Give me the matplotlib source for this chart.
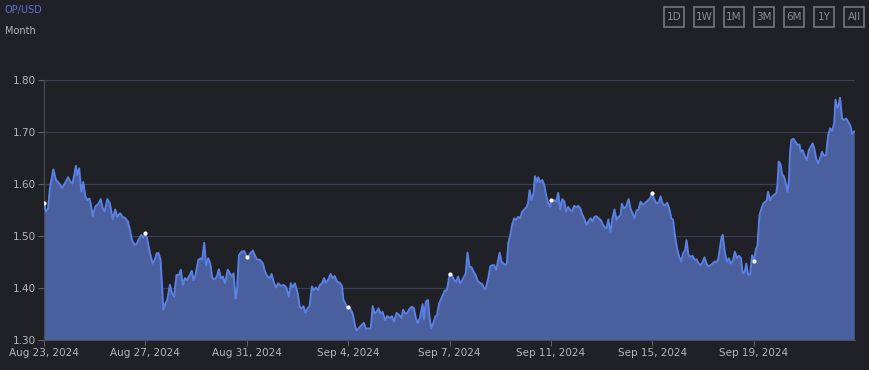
import matplotlib as mpl
import matplotlib.pyplot as plt
from matplotlib.patches import Rectangle

# data (days since Aug 23, 2024 00:00 ; OP price in USD)
days = [
    0.00, 0.08, 0.16, 0.24, 0.37, 0.47, 0.60, 0.71, 0.82, 0.95, 1.05, 1.13, 1.26, 1.31, 1.39, 1.47,
    1.55, 1.63, 1.71, 1.79, 1.84, 1.92, 2.02, 2.16, 2.24, 2.32, 2.39, 2.50, 2.60, 2.71, 2.81, 2.89,
    3.00, 3.10, 3.21, 3.31, 3.39, 3.47, 3.58, 3.66, 3.74, 3.84, 3.92, 4.00, 4.07, 4.18, 4.29, 4.37,
    4.45, 4.52, 4.60, 4.65, 4.71, 4.79, 4.86, 4.97, 5.05, 5.13, 5.23, 5.33, 5.40, 5.48, 5.56, 5.64,
    5.75, 5.83, 5.90, 5.98, 6.09, 6.17, 6.24, 6.32, 6.40, 6.48, 6.56, 6.64, 6.75, 6.82, 6.90, 6.98,
    7.06, 7.14, 7.25, 7.35, 7.43, 7.48, 7.56, 7.61, 7.69, 7.80, 7.90, 8.00, 8.08, 8.16, 8.24, 8.32,
    8.40, 8.53, 8.64, 8.72, 8.82, 8.90, 8.98, 9.08, 9.16, 9.24, 9.35, 9.46, 9.56, 9.66, 9.74, 9.82,
    9.90, 10.01, 10.09, 10.16, 10.24, 10.32, 10.40, 10.48, 10.57, 10.65, 10.73, 10.81, 10.89, 10.97,
    11.05, 11.12, 11.20, 11.31, 11.39, 11.47, 11.57, 11.68, 11.76, 11.81, 11.89, 11.96, 12.00, 12.10,
    12.18, 12.28, 12.34, 12.44, 12.54, 12.62, 12.70, 12.81, 12.89, 12.97, 13.05, 13.12, 13.20, 13.28,
    13.36, 13.46, 13.54, 13.65, 13.73, 13.81, 13.91, 14.02, 14.10, 14.17, 14.25, 14.33, 14.44, 14.52,
    14.60, 14.67, 14.75, 14.83, 14.94, 14.99, 15.07, 15.15, 15.20, 15.28, 15.36, 15.44, 15.51, 15.59,
    15.70, 15.81, 15.90, 15.98, 16.00, 16.11, 16.19, 16.26, 16.34, 16.42, 16.50, 16.58, 16.64, 16.71,
    16.79, 16.87, 16.95, 17.03, 17.11, 17.21, 17.29, 17.35, 17.42, 17.53, 17.61, 17.69, 17.76, 17.84,
    17.92, 17.98, 18.05, 18.13, 18.21, 18.26, 18.32, 18.39, 18.47, 18.55, 18.63, 18.71, 18.79, 18.87,
    18.95, 19.03, 19.10, 19.16, 19.24, 19.32, 19.37, 19.45, 19.50, 19.58, 19.66, 19.74, 19.81, 19.89,
    19.97, 20.00, 20.13, 20.21, 20.29, 20.37, 20.45, 20.53, 20.60, 20.68, 20.76, 20.84, 20.92, 21.00,
    21.08, 21.16, 21.25, 21.33, 21.41, 21.49, 21.57, 21.64, 21.72, 21.80, 21.88, 21.96, 22.04, 22.12,
    22.20, 22.27, 22.35, 22.43, 22.51, 22.59, 22.67, 22.75, 22.80, 22.88, 22.96, 23.07, 23.14, 23.22,
    23.30, 23.38, 23.46, 23.54, 23.62, 23.70, 23.78, 23.85, 23.93, 24.00, 24.09, 24.17, 24.25, 24.33,
    24.41, 24.49, 24.59, 24.67, 24.75, 24.82, 24.90, 24.98, 25.06, 25.14, 25.22, 25.30, 25.35, 25.43,
    25.51, 25.59, 25.67, 25.75, 25.83, 25.90, 25.98, 26.06, 26.14, 26.22, 26.30, 26.38, 26.46, 26.54,
    26.61, 26.73, 26.78, 26.86, 26.94, 27.02, 27.10, 27.18, 27.26, 27.34, 27.42, 27.50, 27.57, 27.65,
    27.71, 27.78, 27.86, 27.94, 28.00, 28.10, 28.15, 28.23, 28.31, 28.39, 28.47, 28.52, 28.57, 28.65,
    28.73, 28.81, 28.89, 28.94, 28.99, 29.07, 29.12, 29.20, 29.26, 29.34, 29.39, 29.44, 29.49, 29.57,
    29.65, 29.73, 29.81, 29.86, 29.94, 30.02, 30.10, 30.18, 30.26, 30.33, 30.39, 30.47, 30.55, 30.62,
    30.70, 30.78, 30.86, 30.94, 31.02, 31.10, 31.18, 31.23, 31.31, 31.36, 31.41, 31.49, 31.57, 31.65,
    31.73, 31.81, 31.89, 31.97,
]
price = [
    1.563, 1.547, 1.553, 1.595, 1.628, 1.608, 1.601, 1.592, 1.601, 1.613, 1.604, 1.601, 1.635, 1.617, 1.630, 1.585,
    1.604, 1.576, 1.569, 1.572, 1.563, 1.538, 1.556, 1.563, 1.571, 1.553, 1.547, 1.571, 1.563, 1.532, 1.551, 1.537,
    1.544, 1.537, 1.534, 1.528, 1.512, 1.492, 1.483, 1.485, 1.494, 1.502, 1.497, 1.505, 1.495, 1.467, 1.447, 1.454,
    1.467, 1.467, 1.454, 1.409, 1.358, 1.370, 1.377, 1.406, 1.390, 1.383, 1.425, 1.425, 1.435, 1.406, 1.419, 1.415,
    1.425, 1.433, 1.415, 1.425, 1.454, 1.457, 1.454, 1.487, 1.444, 1.457, 1.447, 1.419, 1.417, 1.422, 1.436, 1.419,
    1.422, 1.409, 1.435, 1.427, 1.422, 1.428, 1.380, 1.390, 1.463, 1.470, 1.471, 1.460, 1.462, 1.468, 1.472, 1.463,
    1.455, 1.454, 1.447, 1.431, 1.422, 1.419, 1.427, 1.409, 1.401, 1.409, 1.404, 1.406, 1.401, 1.383, 1.409, 1.401,
    1.409, 1.390, 1.364, 1.361, 1.365, 1.352, 1.361, 1.365, 1.403, 1.396, 1.401, 1.396, 1.406, 1.409,
    1.419, 1.410, 1.415, 1.427, 1.419, 1.423, 1.412, 1.410, 1.403, 1.378, 1.370, 1.363, 1.364, 1.359,
    1.351, 1.326, 1.318, 1.324, 1.329, 1.333, 1.322, 1.322, 1.322, 1.365, 1.351, 1.354, 1.361, 1.351,
    1.354, 1.338, 1.346, 1.342, 1.346, 1.335, 1.352, 1.348, 1.342, 1.358, 1.351, 1.352, 1.361, 1.364,
    1.361, 1.342, 1.333, 1.342, 1.369, 1.340, 1.374, 1.377, 1.348, 1.322, 1.332, 1.345, 1.348, 1.370,
    1.382, 1.395, 1.396, 1.419, 1.427, 1.423, 1.415, 1.412, 1.422, 1.409, 1.415, 1.422, 1.428, 1.468,
    1.441, 1.440, 1.431, 1.425, 1.414, 1.409, 1.408, 1.401, 1.397, 1.419, 1.442, 1.444, 1.444, 1.435,
    1.454, 1.468, 1.451, 1.447, 1.444, 1.447, 1.486, 1.500, 1.521, 1.534, 1.531, 1.537, 1.534, 1.547,
    1.551, 1.555, 1.563, 1.588, 1.569, 1.583, 1.615, 1.604, 1.613, 1.603, 1.608, 1.598, 1.579, 1.563,
    1.556, 1.569, 1.569, 1.566, 1.583, 1.551, 1.571, 1.566, 1.547, 1.556, 1.550, 1.547, 1.558, 1.555,
    1.558, 1.553, 1.540, 1.532, 1.521, 1.529, 1.534, 1.528, 1.537, 1.538, 1.534, 1.531, 1.523, 1.517,
    1.515, 1.532, 1.508, 1.534, 1.551, 1.531, 1.537, 1.540, 1.562, 1.553, 1.556, 1.571, 1.553, 1.544,
    1.534, 1.549, 1.551, 1.566, 1.560, 1.563, 1.566, 1.569, 1.574, 1.583, 1.569, 1.563, 1.564, 1.576,
    1.562, 1.558, 1.564, 1.553, 1.534, 1.531, 1.499, 1.476, 1.460, 1.451, 1.467, 1.473, 1.492, 1.463,
    1.460, 1.462, 1.454, 1.455, 1.447, 1.444, 1.449, 1.459, 1.447, 1.441, 1.444, 1.447, 1.451, 1.449,
    1.457, 1.496, 1.502, 1.470, 1.451, 1.457, 1.447, 1.452, 1.470, 1.457, 1.462, 1.457, 1.428, 1.431,
    1.447, 1.426, 1.426, 1.463, 1.451, 1.476, 1.481, 1.540, 1.553, 1.563, 1.566, 1.569, 1.585, 1.569,
    1.576, 1.579, 1.582, 1.598, 1.643, 1.637, 1.619, 1.614, 1.604, 1.585, 1.604, 1.662, 1.685, 1.687,
    1.681, 1.675, 1.676, 1.662, 1.665, 1.653, 1.646, 1.665, 1.672, 1.678, 1.669, 1.649, 1.640, 1.649,
    1.662, 1.654, 1.656, 1.694, 1.707, 1.702, 1.717, 1.762, 1.746, 1.752, 1.766, 1.726, 1.723, 1.726,
    1.720, 1.713, 1.696, 1.701,
]
tick_days = [0, 4, 8, 12, 16, 20, 24, 28]
tick_labels = ['Aug 23, 2024', 'Aug 27, 2024', 'Aug 31, 2024', 'Sep 4, 2024',
               'Sep 7, 2024', 'Sep 11, 2024', 'Sep 15, 2024', 'Sep 19, 2024']
y_ticks = [1.30, 1.40, 1.50, 1.60, 1.70, 1.80]
ranges = ['1D', '1W', '1M', '3M', '6M', '1Y', 'All']

bg = '#1f2126'
txt = '#b4b6bc'
mpl.rcParams['font.family'] = ['DejaVu Sans']

fig = plt.figure(figsize=(8.7, 3.7), dpi=100)
fig.patch.set_facecolor(bg)
ax = fig.add_axes([44 / 870, 1 - 340 / 370, (855 - 44) / 870, 260 / 370])
ax.set_facecolor(bg)

ax.fill_between(days, price, 1.30, color='#4a5f9e', lw=0, zorder=2)
ax.plot(days, price, color='#5b80e3', lw=1.4, zorder=3)

# white dots at tick dates
dot_idx = [days.index(d) for d in tick_days]
ax.scatter([days[i] for i in dot_idx], [price[i] for i in dot_idx],
           s=9, color='white', zorder=4, lw=0)

ax.set_xlim(0, 32)
ax.set_ylim(1.30, 1.80)
ax.set_yticks(y_ticks)
ax.set_yticklabels(['%.2f' % v for v in y_ticks])
ax.set_xticks(tick_days)
ax.set_xticklabels(tick_labels)
ax.grid(axis='y', color='#3b3e55', lw=0.9, zorder=1)
ax.tick_params(colors='#5a5d68', labelcolor=txt, labelsize=7.5, length=4, width=0.8, pad=2)
for s in ['top', 'right']:
    ax.spines[s].set_visible(False)
for s in ['left', 'bottom']:
    ax.spines[s].set_color('#4a4d58')
    ax.spines[s].set_linewidth(0.8)

# header texts
fig.text(5 / 870, 1 - 10 / 370, 'OP/USD', color='#5d72d6', fontsize=7, va='center', ha='left')
fig.text(5 / 870, 1 - 31 / 370, 'Month', color=txt, fontsize=7, va='center', ha='left')

# range buttons
for i, lab in enumerate(ranges):
    x0 = 664 + i * 30
    fig.patches.append(Rectangle((x0 / 870, 1 - 27 / 370), 20 / 870, 20 / 370,
                                 transform=fig.transFigure, fill=False,
                                 edgecolor='#75777e', lw=1.2))
    fig.text((x0 + 10) / 870, 1 - 17 / 370, lab, color='#8a8c93', fontsize=7.5,
             ha='center', va='center')

fig.savefig('out.png', dpi=100, facecolor=bg)
